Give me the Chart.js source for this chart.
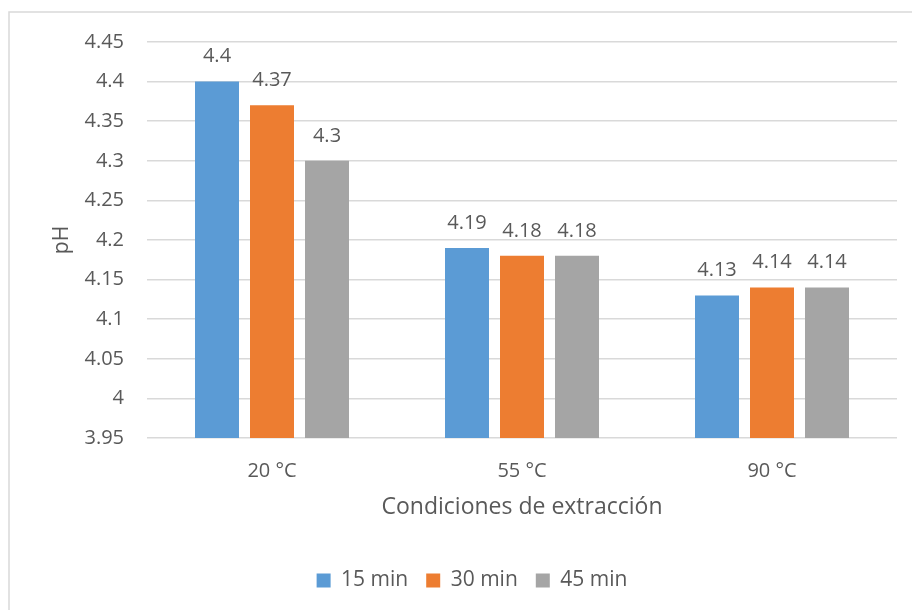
<!DOCTYPE html>
<html>
<head>
<meta charset="utf-8">
<script src="https://cdn.jsdelivr.net/npm/chart.js@4/dist/chart.umd.min.js"></script>
<style>
  html, body { margin: 0; padding: 0; background: #ffffff; }
  #wrap { width: 912px; height: 610px; position: relative; }
</style>
</head>
<body>
<div id="wrap"><canvas id="c" width="912" height="610"></canvas></div>
<script>
// pH por condición de extracción y tiempo
const categories = ['20 °C', '55 °C', '90 °C'];
const seriesNames = ['15 min', '30 min', '45 min'];
const ph15 = [4.40, 4.19, 4.13];
const ph30 = [4.37, 4.18, 4.14];
const ph45 = [4.30, 4.18, 4.14];
const yTicks = [3.95, 4.00, 4.05, 4.10, 4.15, 4.20, 4.25, 4.30, 4.35, 4.40, 4.45];
const xTitle = 'Condiciones de extracción';
const yTitle = 'pH';

const colors = ['#5B9BD5', '#ED7D31', '#A5A5A5'];
const textColor = '#595959';
const fontFamily = '"Open Sans", "DejaVu Sans", sans-serif';

const fmt = v => String(Number(v.toFixed(2)));

// Frame, axis titles and value labels
const decorations = {
  id: 'decorations',
  beforeDraw(chart) {
    const ctx = chart.ctx;
    ctx.save();
    ctx.strokeStyle = '#d9d9d9';
    ctx.lineWidth = 1.5;
    ctx.strokeRect(9, 12, 1000, 1000);
    ctx.restore();
  },
  afterDatasetsDraw(chart) {
    const ctx = chart.ctx;
    const area = chart.chartArea;
    ctx.save();
    ctx.fillStyle = textColor;
    ctx.textAlign = 'center';
    ctx.textBaseline = 'middle';
    ctx.font = '20px ' + fontFamily;
    chart.data.datasets.forEach((ds, i) => {
      const meta = chart.getDatasetMeta(i);
      meta.data.forEach((bar, j) => {
        ctx.fillText(fmt(ds.data[j]), bar.x, bar.y - 25);
      });
    });
    ctx.font = '23px ' + fontFamily;
    ctx.fillText(xTitle, (area.left + area.right) / 2, 507);
    ctx.translate(62, (area.top + area.bottom) / 2);
    ctx.rotate(-Math.PI / 2);
    ctx.font = '21px ' + fontFamily;
    ctx.fillText(yTitle, 0, 0);
    ctx.restore();
  }
};

new Chart(document.getElementById('c'), {
  type: 'bar',
  data: {
    labels: categories,
    datasets: [ph15, ph30, ph45].map((d, i) => ({
      label: seriesNames[i],
      data: d,
      backgroundColor: colors[i],
      borderWidth: 0,
      categoryPercentage: 0.66,
      barPercentage: 0.8
    }))
  },
  options: {
    responsive: false,
    animation: false,
    devicePixelRatio: 1,
    layout: { padding: { left: 47, right: 15, top: 42, bottom: 9 } },
    plugins: {
      tooltip: { enabled: false },
      legend: {
        position: 'bottom',
        labels: {
          boxWidth: 14,
          boxHeight: 14,
          padding: 18,
          color: textColor,
          font: { family: fontFamily, size: 21 }
        }
      }
    },
    scales: {
      x: {
        grid: { display: false },
        border: { display: false },
        ticks: {
          color: textColor,
          padding: 13,
          font: { family: fontFamily, size: 20 }
        },
        afterFit(scale) { scale.height = 114; }
      },
      y: {
        min: 3.95,
        max: 4.45,
        afterBuildTicks(scale) { scale.ticks = yTicks.map(v => ({ value: v })); },
        grid: { color: '#d9d9d9', lineWidth: 1.5, drawTicks: false },
        border: { display: false },
        ticks: {
          color: textColor,
          padding: 23,
          font: { family: fontFamily, size: 20 },
          callback: v => fmt(v)
        },
        afterFit(scale) { scale.width = 100; }
      }
    }
  },
  plugins: [decorations]
});
</script>
</body>
</html>
